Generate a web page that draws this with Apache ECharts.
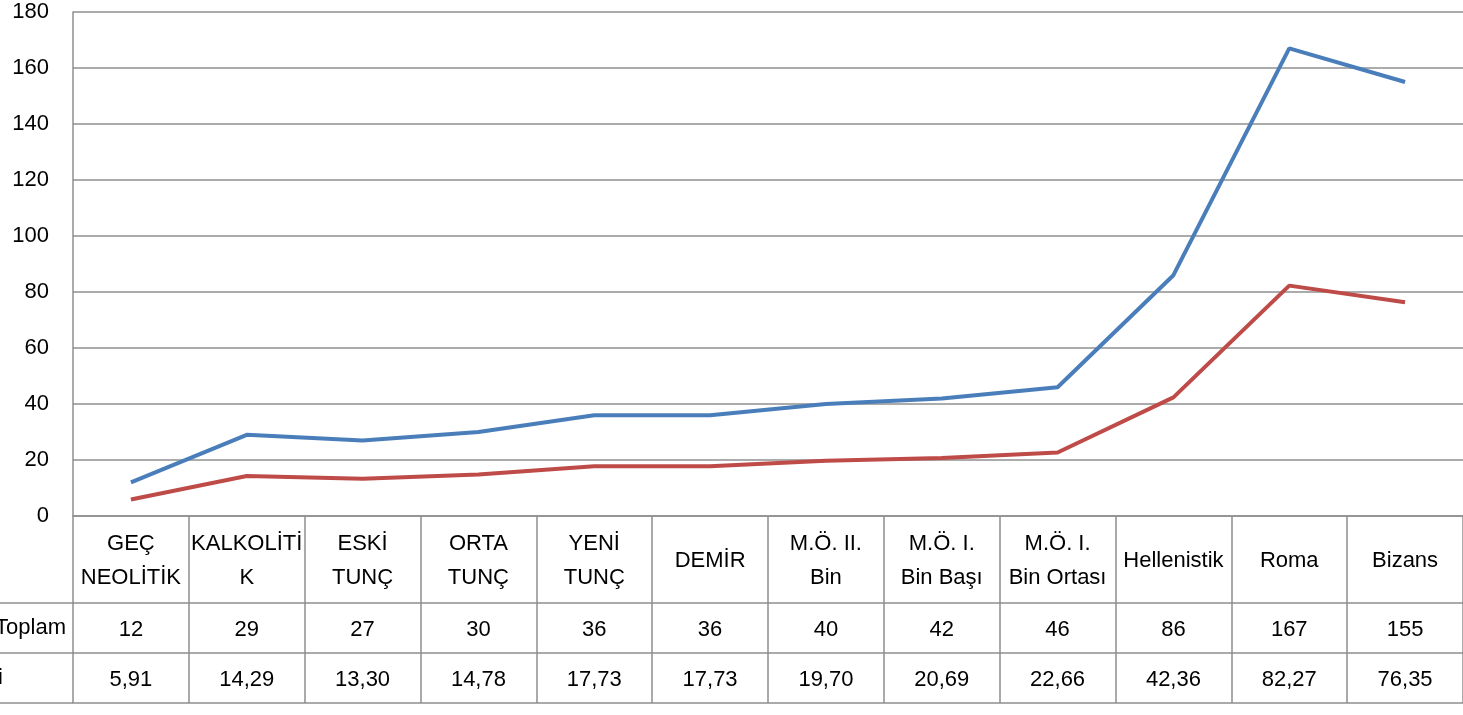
<!DOCTYPE html>
<html>
<head>
<meta charset="utf-8">
<script src="https://cdn.jsdelivr.net/npm/echarts@6/dist/echarts.min.js"></script>
<style>
html,body{margin:0;padding:0;background:#fff;}
#c{width:1463px;height:715px;}
</style>
</head>
<body>
<div id="c"></div>
<script>
var categories = ['GEÇ\nNEOLİTİK','KALKOLİTİ\nK','ESKİ\nTUNÇ','ORTA\nTUNÇ','YENİ\nTUNÇ','DEMİR','M.Ö. II.\nBin','M.Ö. I.\nBin Başı','M.Ö. I.\nBin Ortası','Hellenistik','Roma','Bizans'];
var toplam = [12,29,27,30,36,36,40,42,46,86,167,155];
var yuzde = [5.91,14.29,13.30,14.78,17.73,17.73,19.70,20.69,22.66,42.36,82.27,76.35];
var yuzdeLabels = ['5,91','14,29','13,30','14,78','17,73','17,73','19,70','20,69','22,66','42,36','82,27','76,35'];
var rowLabels = ['Toplam','i'];
var yTicks = [0,20,40,60,80,100,120,140,160,180];

var FONT = '"Liberation Sans", Arial, sans-serif';
var FS = 22;
var GRID = '#8f8f8f';
var chart = echarts.init(document.getElementById('c'));

function tableAxis(data, offset, showLine, labelShow) {
  return {
    type: 'category', position: 'bottom', offset: offset, data: data,
    boundaryGap: true,
    axisLine: {show: showLine, lineStyle: {color: GRID, width: 1.5}},
    axisTick: {show: false},
    axisLabel: {show: labelShow, margin: 27, verticalAlign: 'middle', color: '#000',
      fontFamily: FONT, fontSize: FS, interval: 0},
    splitLine: {show: false}
  };
}

chart.setOption({
  animation: false,
  grid: {left: 73, right: 0, top: 12, bottom: 199, containLabel: false},
  xAxis: [
    {
      type: 'category', data: categories, boundaryGap: true, position: 'bottom',
      axisLine: {show: true, lineStyle: {color: GRID, width: 1.5}},
      axisTick: {show: true, length: 187, alignWithLabel: false, interval: 0,
        lineStyle: {color: GRID, width: 1.5}},
      axisLabel: {margin: 45, verticalAlign: 'middle', align: 'center', color: '#000',
        fontFamily: FONT, fontSize: FS, lineHeight: 34, interval: 0},
      splitLine: {show: false}
    },
    tableAxis(toplam.map(String), 87, true, true),
    tableAxis(yuzdeLabels, 137, true, true),
    tableAxis(categories, 187, true, false)
  ],
  yAxis: {
    type: 'value', min: 0, max: 180, interval: 20,
    axisLine: {show: true, lineStyle: {color: GRID, width: 1.5}},
    axisTick: {show: false},
    axisLabel: {margin: 24, color: '#000', fontFamily: FONT, fontSize: FS,
      formatter: function (v) { return yTicks.indexOf(v) >= 0 ? String(v) : ''; }},
    splitLine: {show: true, lineStyle: {color: GRID, width: 1.5}}
  },
  graphic: [
    {type: 'line', shape: {x1: 0, y1: 603, x2: 73, y2: 603}, style: {stroke: GRID, lineWidth: 1.5}},
    {type: 'line', shape: {x1: 0, y1: 653, x2: 73, y2: 653}, style: {stroke: GRID, lineWidth: 1.5}},
    {type: 'line', shape: {x1: 0, y1: 703, x2: 73, y2: 703}, style: {stroke: GRID, lineWidth: 1.5}},
    {type: 'text', x: 66, y: 628, style: {text: rowLabels[0], fill: '#000', align: 'right', verticalAlign: 'middle', font: FS + 'px ' + FONT}},
    {type: 'text', x: -2, y: 678, style: {text: rowLabels[1], fill: '#000', align: 'left', verticalAlign: 'middle', font: FS + 'px ' + FONT}}
  ],
  series: [
    {type: 'line', name: 'Toplam', data: toplam, xAxisIndex: 0, symbol: 'none',
      lineStyle: {color: '#4A7EBB', width: 4}, itemStyle: {color: '#4A7EBB'}},
    {type: 'line', name: 'Yüzde', data: yuzde, xAxisIndex: 0, symbol: 'none',
      lineStyle: {color: '#BE4B48', width: 4}, itemStyle: {color: '#BE4B48'}}
  ]
});
</script>
</body>
</html>
